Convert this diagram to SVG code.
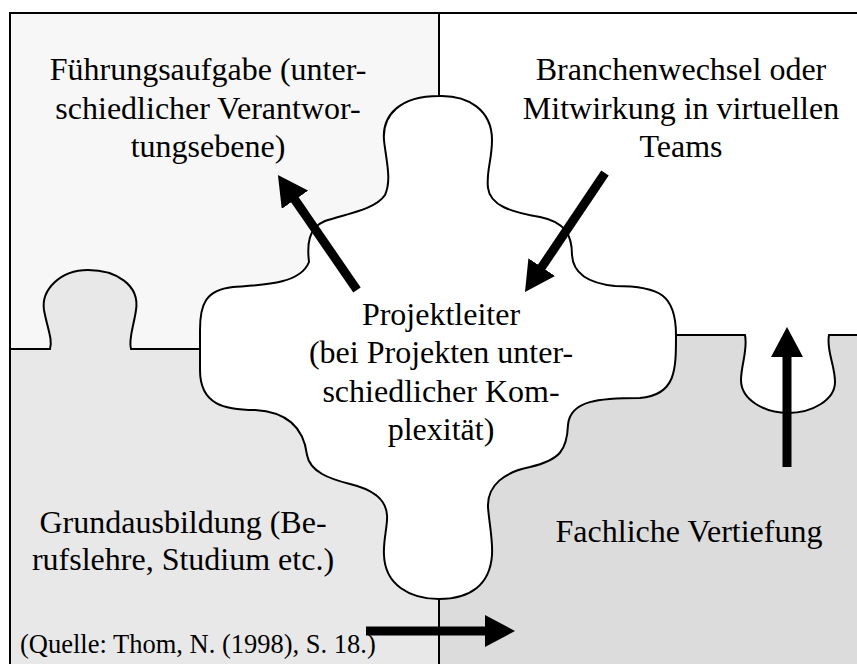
<svg xmlns="http://www.w3.org/2000/svg" width="857" height="664" viewBox="0 0 857 664">
<style>
.lbl{font-family:"Liberation Serif","Times New Roman",serif;font-size:32px;fill:#000;text-anchor:middle}
.src{font-family:"Liberation Serif","Times New Roman",serif;font-size:26.5px;fill:#000}
.edge{fill:none;stroke:#000;stroke-width:2}
.arrow{stroke:#000;stroke-width:9;fill:none;marker-end:url(#head)}
</style>
<defs>
<marker id="head" viewBox="0 0 30 32" refX="2" refY="16" markerWidth="30" markerHeight="32" markerUnits="userSpaceOnUse" orient="auto">
<path d="M0,0 L30,16 L0,32 Z" fill="#000"/>
</marker>
</defs>
<rect width="857" height="664" fill="#fff"/>
<g id="pieces">
<g id="piece-top-left">
<rect x="10" y="13" width="429" height="336" fill="#f7f7f7"/>
</g>
<g id="piece-bottom-left">
<rect x="10" y="349" width="429" height="315" fill="#e8e8e8"/>
<path d="M50,349 C53,340 47,327 44,310 C41,290 60,270 88,270 C116,270 140,285 136,310 C134,325 128,340 131,349 Z" fill="#e8e8e8"/>
</g>
<g id="piece-bottom-right">
<rect x="439" y="335" width="418" height="329" fill="#dcdcdc"/>
<path d="M745,335 C748,350 741,365 741,380 C741,400 765,413 788,413 C812,413 835,400 835,382 C835,365 826,350 829,335 Z" fill="#fff"/>
</g>
<g id="borders">
<path class="edge" d="M10,664 L10,13 L857,13"/>
<path class="edge" d="M439,13 L439,96"/>
<path class="edge" d="M439,599 L439,664"/>
<path class="edge" d="M10,349 L50,349 C53,340 47,327 44,310 C41,290 60,270 88,270 C116,270 140,285 136,310 C134,325 128,340 131,349 L200,349"/>
<path class="edge" d="M676,335 L745,335 C748,350 741,365 741,380 C741,400 765,413 788,413 C812,413 835,400 835,382 C835,365 826,350 829,335 L857,335"/>
</g>
<g id="piece-center">
<path class="edge" fill="#fff" style="fill:#fff" d="M439,96 C468,95 492,110 492,140 C492,160 486,172 488,188 C490,205 510,212 540,217 C565,222 572,235 572,255 C573,272 585,283 615,286 C660,286 676,295 676,335 C676,370 676,395 640,398 C600,398 570,400 568,425 C567,450 560,460 530,467 C505,472 487,485 488,507 C489,522 493,540 492,555 C490,585 470,599 439,599 C410,599 385,585 384,555 C383,540 388,525 387,515 C386,500 375,490 350,484 C330,479 310,472 307,455 C304,430 290,412 255,410 C225,410 200,405 200,370 L200,330 C200,305 205,290 233,287 C260,285 300,285 309,262 C307,245 308,228 325,221 C345,214 375,210 385,195 C392,180 386,160 384,140 C382,115 400,96 439,96 Z"/>
</g>
</g>
<g id="connectors">
<line class="arrow" x1="357" y1="290" x2="293.8" y2="198.1"/>
<line class="arrow" x1="605" y1="173" x2="540.6" y2="268.8"/>
<line class="arrow" x1="787" y1="467" x2="787" y2="355"/>
<line class="arrow" x1="366" y1="631" x2="487" y2="631"/>
</g>
<g id="label-fuehrung">
<text class="lbl" x="208" y="80">Führungsaufgabe (unter-</text>
<text class="lbl" x="208" y="119">schiedlicher Verantwor-</text>
<text class="lbl" x="208" y="157">tungsebene)</text>
</g>
<g id="label-branche">
<text class="lbl" x="681" y="80">Branchenwechsel oder</text>
<text class="lbl" x="681" y="119">Mitwirkung in virtuellen</text>
<text class="lbl" x="681" y="157">Teams</text>
</g>
<g id="label-projektleiter">
<text class="lbl" x="441" y="325">Projektleiter</text>
<text class="lbl" x="441" y="363">(bei Projekten unter-</text>
<text class="lbl" x="441" y="402">schiedlicher Kom-</text>
<text class="lbl" x="441" y="440">plexität)</text>
</g>
<g id="label-grund">
<text class="lbl" x="183" y="533">Grundausbildung (Be-</text>
<text class="lbl" x="183" y="570">rufslehre, Studium etc.)</text>
</g>
<g id="label-fach">
<text class="lbl" x="689" y="542">Fachliche Vertiefung</text>
</g>
<text class="src" x="20" y="653">(Quelle: Thom, N. (1998), S. 18.)</text>
</svg>
